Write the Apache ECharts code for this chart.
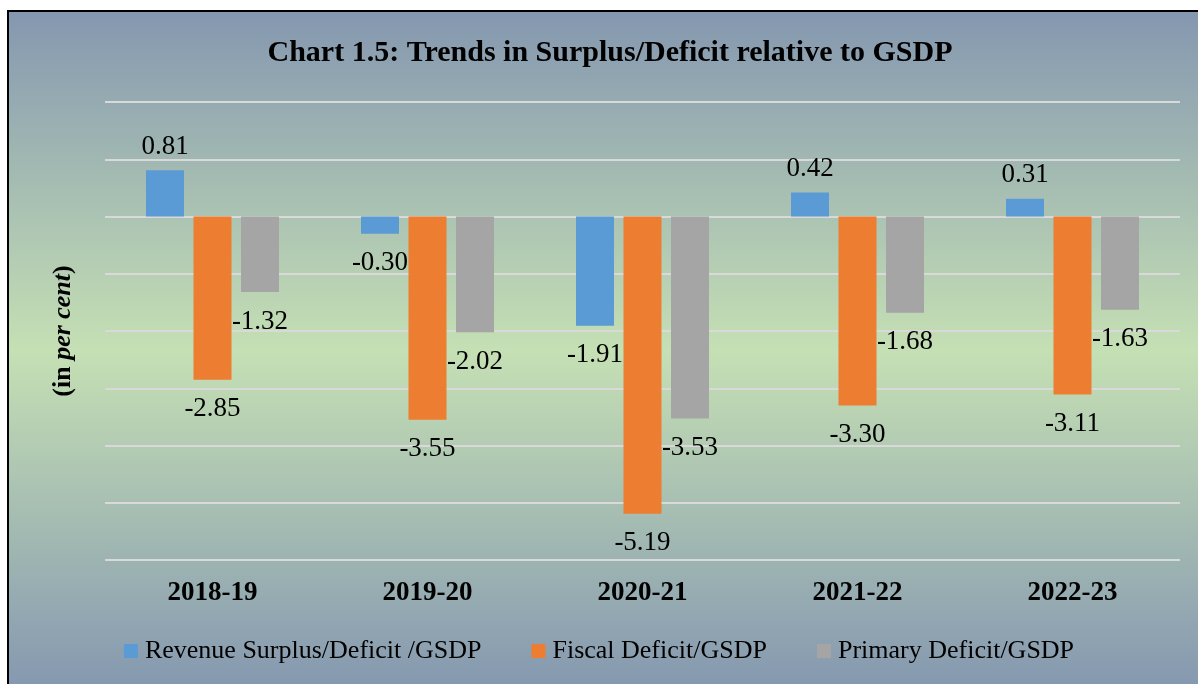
<!DOCTYPE html>
<html>
<head>
<meta charset="utf-8">
<script src="https://cdn.jsdelivr.net/npm/echarts@6/dist/echarts.min.js"></script>
<style>
html,body{margin:0;padding:0;background:#fff;}
#chart{width:1198px;height:684px;}
</style>
</head>
<body>
<div id="chart"></div>
<script>
const categories = ['2018-19', '2019-20', '2020-21', '2021-22', '2022-23'];
const seriesNames = ['Revenue Surplus/Deficit /GSDP', 'Fiscal Deficit/GSDP', 'Primary Deficit/GSDP'];
const revenue = [0.81, -0.30, -1.91, 0.42, 0.31];
const fiscal = [-2.85, -3.55, -5.19, -3.30, -3.11];
const primary = [-1.32, -2.02, -3.53, -1.68, -1.63];
const colors = ['#5b9bd5', '#ed7d31', '#a5a5a5'];

const font = '"Liberation Serif", "Times New Roman", serif';
const chart = echarts.init(document.getElementById('chart'));

function mkSeries(name, data, color) {
  return {
    name: name,
    type: 'bar',
    barWidth: 38,
    barGap: '25%',
    itemStyle: { color: color },
    data: data.map(v => ({
      value: v,
      label: {
        show: true,
        position: v >= 0 ? 'top' : 'bottom',
        distance: v >= 0 ? 10 : 16,
        formatter: p => p.value.toFixed(2),
        color: '#000',
        fontFamily: font,
        fontSize: 27
      }
    }))
  };
}

chart.setOption({
  animation: false,
  graphic: [{
    type: 'rect',
    z: -10,
    silent: true,
    shape: { x: 8, y: 11, width: 1200, height: 680 },
    style: {
      fill: new echarts.graphic.LinearGradient(0, 0, 0, 1, [
        { offset: 0, color: '#8497b0' },
        { offset: 0.5, color: '#c5e0b4' },
        { offset: 1, color: '#8497b0' }
      ]),
      stroke: '#000',
      lineWidth: 2
    }
  }],
  title: {
    text: 'Chart 1.5: Trends in Surplus/Deficit relative to GSDP',
    left: 605,
    textAlign: 'center',
    top: 33,
    textStyle: { fontFamily: font, fontSize: 30, fontWeight: 'bold', color: '#000' }
  },
  legend: {
    bottom: 15,
    left: 'center',
    itemWidth: 14,
    itemHeight: 14,
    itemGap: 50,
    icon: 'rect',
    textStyle: { fontFamily: font, fontSize: 26, color: '#000', padding: [0, 0, 0, 2] },
    data: seriesNames
  },
  grid: { left: 105, right: 18, top: 102, bottom: 124 },
  xAxis: {
    type: 'category',
    data: categories,
    position: 'bottom',
    axisLine: { show: false, onZero: false },
    axisTick: { show: false },
    axisLabel: { margin: 20, fontFamily: font, fontSize: 27, fontWeight: 'bold', color: '#000' }
  },
  yAxis: {
    type: 'value',
    min: -6,
    max: 2,
    interval: 1,
    axisLabel: { show: false },
    axisLine: { show: false },
    axisTick: { show: false },
    splitLine: { lineStyle: { color: '#d9d9d9', width: 2 } },
    name: '{b|(in }{i|per cent}{b|)}',
    nameLocation: 'middle',
    nameRotate: 90,
    nameGap: 29,
    nameTextStyle: {
      rich: {
        b: { fontFamily: font, fontSize: 26, fontWeight: 'bold', color: '#000' },
        i: { fontFamily: font, fontSize: 26, fontWeight: 'bold', fontStyle: 'italic', color: '#000' }
      }
    }
  },
  series: [
    mkSeries(seriesNames[0], revenue, colors[0]),
    mkSeries(seriesNames[1], fiscal, colors[1]),
    mkSeries(seriesNames[2], primary, colors[2])
  ]
});
</script>
</body>
</html>
